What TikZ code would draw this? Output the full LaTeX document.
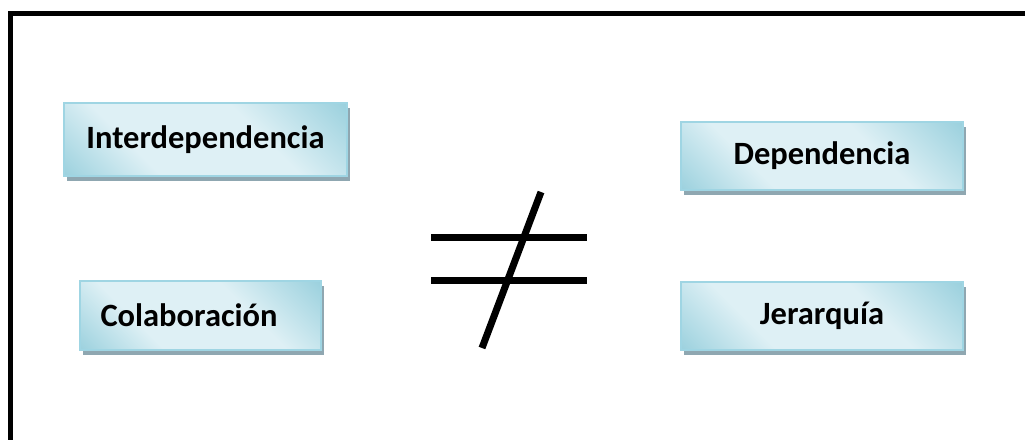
\documentclass[tikz,border=0pt]{standalone}
\usepackage{fontspec}
\setmainfont{Carlito}
\usetikzlibrary{shadows}
\definecolor{boxdark}{HTML}{93CDDB}
\definecolor{boxlight}{HTML}{DEF0F5}
\definecolor{boxline}{HTML}{9FD5E3}
\definecolor{shadowc}{HTML}{8FA7B1}
\pgfdeclarehorizontalshading{boxshade}{100bp}{color(0bp)=(boxdark); color(12bp)=(boxdark); color(34bp)=(boxlight); color(62bp)=(boxlight); color(88bp)=(boxdark); color(100bp)=(boxdark)}
\tikzset{
  box/.style={rectangle, draw=boxline, line width=1.5pt, shading=boxshade, shading angle=45,
    font=\bfseries\fontsize{32.5}{38}\selectfont, text=black, inner sep=0pt,
    drop shadow={shadow xshift=3pt, shadow yshift=-5pt, fill=shadowc, opacity=1}},
  frame/.style={line width=5.5pt, black},
  sign/.style={line width=7pt, black}
}
\begin{document}
\begin{tikzpicture}[x=1pt,y=-1pt]
\useasboundingbox (0,0) rectangle (1025,439);
\draw[frame] (10.5,445) -- (10.5,13.5) -- (1030,13.5);
\node[box, minimum width=283pt, minimum height=73pt] (inter) at (205.5,139.5) {Interdependencia};
\node[box, minimum width=241pt, minimum height=69pt] (colab) at (200.5,315.5) {\hspace*{-23pt}Colaboración};
\node[box, minimum width=282pt, minimum height=68pt] (dep) at (822,156) {Dependencia};
\node[box, minimum width=282pt, minimum height=68pt] (jer) at (822,316) {Jerarquía};
\draw[sign] (431,237) -- (587,237);
\draw[sign] (431,280) -- (587,280);
\draw[sign] (541,192) -- (482,348);
\end{tikzpicture}
\end{document}
